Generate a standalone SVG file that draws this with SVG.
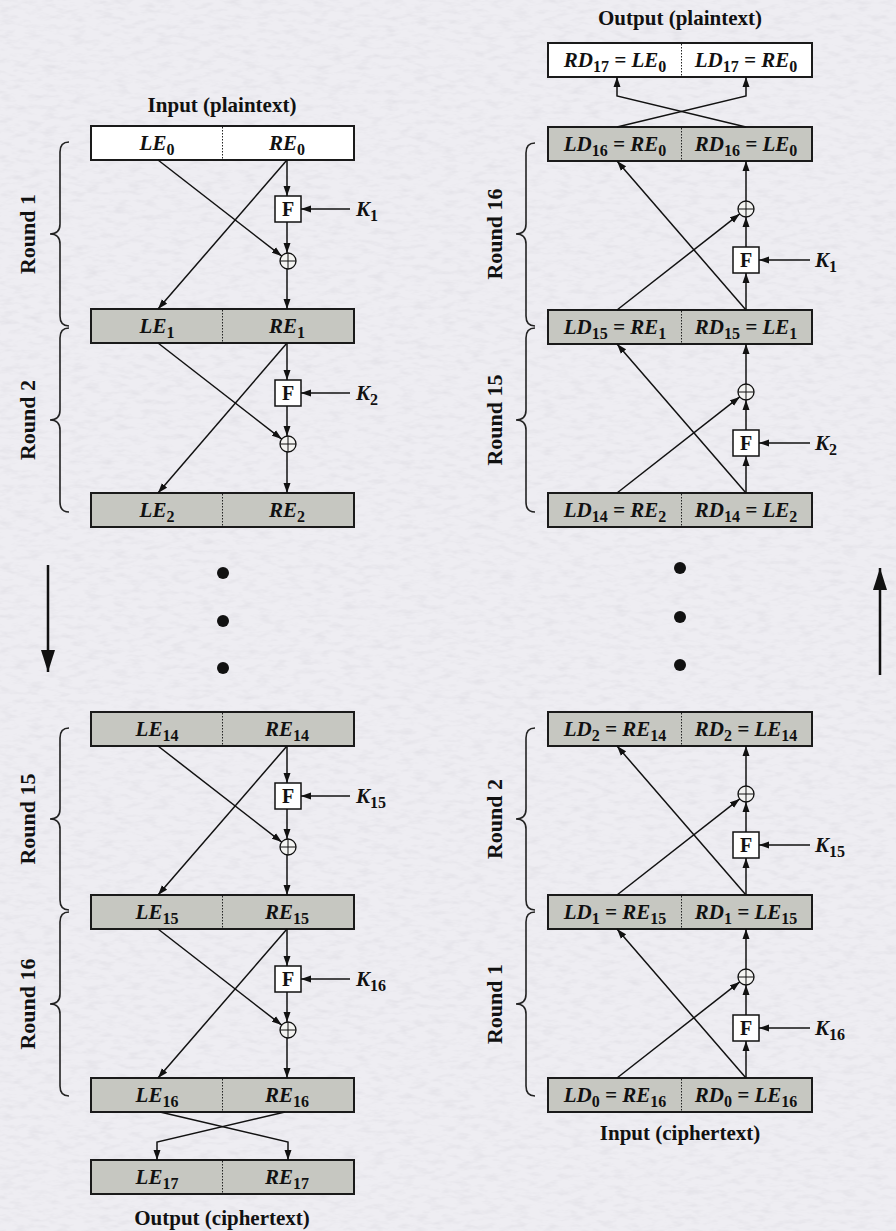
<svg xmlns="http://www.w3.org/2000/svg" width="896" height="1231" viewBox="0 0 896 1231">
  <defs>
    <marker id="ah" markerUnits="userSpaceOnUse" markerWidth="10" markerHeight="8" refX="10" refY="4" orient="auto">
      <path d="M0,0.5 L10,4 L0,7.5 z" fill="#111"/>
    </marker>
    <marker id="bigah" markerUnits="userSpaceOnUse" markerWidth="22" markerHeight="16" refX="22" refY="8" orient="auto">
      <path d="M0,1 L22,8 L0,15 z" fill="#111"/>
    </marker>
    <filter id="paper" x="0" y="0" width="100%" height="100%">
      <feTurbulence type="fractalNoise" baseFrequency="0.07 0.2" numOctaves="3" seed="7"/>
      <feColorMatrix type="matrix" values="0 0 0 0 0.64  0 0 0 0 0.63  0 0 0 0 0.68  0.8 0 0 0 -0.36"/>
    </filter>
    <style>
      .bg { fill: #eeedf2; }
      .box { stroke: #1a1a1a; stroke-width: 2; }
      .grey { fill: #c6c7c1; }
      .white { fill: #ffffff; }
      .div { stroke: #222; stroke-width: 1; stroke-dasharray: 1.5 1.5; }
      .t { font-family: "Liberation Serif", "Times New Roman", serif; font-weight: bold; font-style: italic; font-size: 21px; fill: #111; }
      .s { font-style: normal; font-size: 16px; }
      .lbl { font-family: "Liberation Serif", "Times New Roman", serif; font-weight: bold; font-size: 21px; fill: #111; }
      .rnd { font-family: "Liberation Serif", "Times New Roman", serif; font-weight: bold; font-size: 22px; fill: #111; }
      .ln { stroke: #111; stroke-width: 1.5; fill: none; }
      .arr { marker-end: url(#ah); }
      .fbox { fill: #ffffff; stroke: #111; stroke-width: 1.5; }
      .ftxt { font-family: "Liberation Serif", "Times New Roman", serif; font-weight: bold; font-size: 20px; fill: #111; }
      .xor { fill: #f4f4f2; stroke: #111; stroke-width: 1.3; }
      .brace { stroke: #222; stroke-width: 1.6; fill: none; }
      .dot { fill: #111; }
    </style>
  </defs>

  <!-- paper background -->
  <rect class="bg" x="0" y="0" width="896" height="1231"/>
  <rect x="0" y="0" width="896" height="1231" filter="url(#paper)"/>

  <!-- ===== Encryption (left column) ===== -->
  <text class="lbl" x="222" y="112" text-anchor="middle">Input (plaintext)</text>
  <text class="lbl" x="222" y="1225" text-anchor="middle">Output (ciphertext)</text>

  <g id="enc-0">
    <rect class="box white" x="91" y="126" width="263" height="34"/>
    <line class="div" x1="222.5" y1="127" x2="222.5" y2="159"/>
    <text class="t" x="157" y="150" text-anchor="middle">LE<tspan class="s" dy="5">0</tspan></text>
    <text class="t" x="287" y="150" text-anchor="middle">RE<tspan class="s" dy="5">0</tspan></text>
  </g>
  <g id="enc-1">
    <rect class="box grey" x="91" y="309" width="263" height="34"/>
    <line class="div" x1="222.5" y1="310" x2="222.5" y2="342"/>
    <text class="t" x="157" y="333" text-anchor="middle">LE<tspan class="s" dy="5">1</tspan></text>
    <text class="t" x="287" y="333" text-anchor="middle">RE<tspan class="s" dy="5">1</tspan></text>
  </g>
  <g id="enc-2">
    <rect class="box grey" x="91" y="493" width="263" height="34"/>
    <line class="div" x1="222.5" y1="494" x2="222.5" y2="526"/>
    <text class="t" x="157" y="517" text-anchor="middle">LE<tspan class="s" dy="5">2</tspan></text>
    <text class="t" x="287" y="517" text-anchor="middle">RE<tspan class="s" dy="5">2</tspan></text>
  </g>
  <g id="enc-14">
    <rect class="box grey" x="91" y="712" width="263" height="34"/>
    <line class="div" x1="222.5" y1="713" x2="222.5" y2="745"/>
    <text class="t" x="157" y="736" text-anchor="middle">LE<tspan class="s" dy="5">14</tspan></text>
    <text class="t" x="287" y="736" text-anchor="middle">RE<tspan class="s" dy="5">14</tspan></text>
  </g>
  <g id="enc-15">
    <rect class="box grey" x="91" y="895" width="263" height="34"/>
    <line class="div" x1="222.5" y1="896" x2="222.5" y2="928"/>
    <text class="t" x="157" y="919" text-anchor="middle">LE<tspan class="s" dy="5">15</tspan></text>
    <text class="t" x="287" y="919" text-anchor="middle">RE<tspan class="s" dy="5">15</tspan></text>
  </g>
  <g id="enc-16">
    <rect class="box grey" x="91" y="1078" width="263" height="34"/>
    <line class="div" x1="222.5" y1="1079" x2="222.5" y2="1111"/>
    <text class="t" x="157" y="1102" text-anchor="middle">LE<tspan class="s" dy="5">16</tspan></text>
    <text class="t" x="287" y="1102" text-anchor="middle">RE<tspan class="s" dy="5">16</tspan></text>
  </g>
  <g id="enc-17">
    <rect class="box grey" x="91" y="1160" width="263" height="34"/>
    <line class="div" x1="222.5" y1="1161" x2="222.5" y2="1193"/>
    <text class="t" x="157" y="1184" text-anchor="middle">LE<tspan class="s" dy="5">17</tspan></text>
    <text class="t" x="287" y="1184" text-anchor="middle">RE<tspan class="s" dy="5">17</tspan></text>
  </g>

  <!-- round function blocks, encryption -->
  <g id="enc-f1"><rect class="fbox" x="275" y="196" width="26" height="26"/><text class="ftxt" x="288" y="216" text-anchor="middle">F</text></g>
  <g id="enc-x1"><circle class="xor" cx="288" cy="261" r="8"/><path class="ln" d="M280,261 H296 M288,253 V269" style="stroke-width:1"/></g>
  <g id="enc-f2"><rect class="fbox" x="275" y="380" width="26" height="26"/><text class="ftxt" x="288" y="400" text-anchor="middle">F</text></g>
  <g id="enc-x2"><circle class="xor" cx="288" cy="444" r="8"/><path class="ln" d="M280,444 H296 M288,436 V452" style="stroke-width:1"/></g>
  <g id="enc-f15"><rect class="fbox" x="275" y="783" width="26" height="26"/><text class="ftxt" x="288" y="803" text-anchor="middle">F</text></g>
  <g id="enc-x15"><circle class="xor" cx="288" cy="847" r="8"/><path class="ln" d="M280,847 H296 M288,839 V855" style="stroke-width:1"/></g>
  <g id="enc-f16"><rect class="fbox" x="275" y="966" width="26" height="26"/><text class="ftxt" x="288" y="986" text-anchor="middle">F</text></g>
  <g id="enc-x16"><circle class="xor" cx="288" cy="1030" r="8"/><path class="ln" d="M280,1030 H296 M288,1022 V1038" style="stroke-width:1"/></g>

  <!-- subkeys, encryption -->
  <g id="enc-k">
    <text class="t" x="356" y="216">K<tspan class="s" dy="5">1</tspan></text>
    <text class="t" x="356" y="400">K<tspan class="s" dy="5">2</tspan></text>
    <text class="t" x="356" y="803">K<tspan class="s" dy="5">15</tspan></text>
    <text class="t" x="356" y="986">K<tspan class="s" dy="5">16</tspan></text>
  </g>

  <!-- ===== Decryption (right column) ===== -->
  <text class="lbl" x="680" y="25" text-anchor="middle">Output (plaintext)</text>
  <text class="lbl" x="680" y="1140" text-anchor="middle">Input (ciphertext)</text>

  <g id="dec-17">
    <rect class="box white" x="548" y="43" width="264" height="34"/>
    <line class="div" x1="681.5" y1="44" x2="681.5" y2="76"/>
    <text class="t" x="615" y="67" text-anchor="middle">RD<tspan class="s" dy="5">17</tspan><tspan dy="-5"> = LE</tspan><tspan class="s" dy="5">0</tspan></text>
    <text class="t" x="746" y="67" text-anchor="middle">LD<tspan class="s" dy="5">17</tspan><tspan dy="-5"> = RE</tspan><tspan class="s" dy="5">0</tspan></text>
  </g>
  <g id="dec-16">
    <rect class="box grey" x="548" y="127" width="264" height="34"/>
    <line class="div" x1="681.5" y1="128" x2="681.5" y2="160"/>
    <text class="t" x="615" y="151" text-anchor="middle">LD<tspan class="s" dy="5">16</tspan><tspan dy="-5"> = RE</tspan><tspan class="s" dy="5">0</tspan></text>
    <text class="t" x="746" y="151" text-anchor="middle">RD<tspan class="s" dy="5">16</tspan><tspan dy="-5"> = LE</tspan><tspan class="s" dy="5">0</tspan></text>
  </g>
  <g id="dec-15">
    <rect class="box grey" x="548" y="310" width="264" height="34"/>
    <line class="div" x1="681.5" y1="311" x2="681.5" y2="343"/>
    <text class="t" x="615" y="334" text-anchor="middle">LD<tspan class="s" dy="5">15</tspan><tspan dy="-5"> = RE</tspan><tspan class="s" dy="5">1</tspan></text>
    <text class="t" x="746" y="334" text-anchor="middle">RD<tspan class="s" dy="5">15</tspan><tspan dy="-5"> = LE</tspan><tspan class="s" dy="5">1</tspan></text>
  </g>
  <g id="dec-14">
    <rect class="box grey" x="548" y="493" width="264" height="34"/>
    <line class="div" x1="681.5" y1="494" x2="681.5" y2="526"/>
    <text class="t" x="615" y="517" text-anchor="middle">LD<tspan class="s" dy="5">14</tspan><tspan dy="-5"> = RE</tspan><tspan class="s" dy="5">2</tspan></text>
    <text class="t" x="746" y="517" text-anchor="middle">RD<tspan class="s" dy="5">14</tspan><tspan dy="-5"> = LE</tspan><tspan class="s" dy="5">2</tspan></text>
  </g>
  <g id="dec-2">
    <rect class="box grey" x="548" y="712" width="264" height="34"/>
    <line class="div" x1="681.5" y1="713" x2="681.5" y2="745"/>
    <text class="t" x="615" y="736" text-anchor="middle">LD<tspan class="s" dy="5">2</tspan><tspan dy="-5"> = RE</tspan><tspan class="s" dy="5">14</tspan></text>
    <text class="t" x="746" y="736" text-anchor="middle">RD<tspan class="s" dy="5">2</tspan><tspan dy="-5"> = LE</tspan><tspan class="s" dy="5">14</tspan></text>
  </g>
  <g id="dec-1">
    <rect class="box grey" x="548" y="895" width="264" height="34"/>
    <line class="div" x1="681.5" y1="896" x2="681.5" y2="928"/>
    <text class="t" x="615" y="919" text-anchor="middle">LD<tspan class="s" dy="5">1</tspan><tspan dy="-5"> = RE</tspan><tspan class="s" dy="5">15</tspan></text>
    <text class="t" x="746" y="919" text-anchor="middle">RD<tspan class="s" dy="5">1</tspan><tspan dy="-5"> = LE</tspan><tspan class="s" dy="5">15</tspan></text>
  </g>
  <g id="dec-0">
    <rect class="box grey" x="548" y="1078" width="264" height="34"/>
    <line class="div" x1="681.5" y1="1079" x2="681.5" y2="1111"/>
    <text class="t" x="615" y="1102" text-anchor="middle">LD<tspan class="s" dy="5">0</tspan><tspan dy="-5"> = RE</tspan><tspan class="s" dy="5">16</tspan></text>
    <text class="t" x="746" y="1102" text-anchor="middle">RD<tspan class="s" dy="5">0</tspan><tspan dy="-5"> = LE</tspan><tspan class="s" dy="5">16</tspan></text>
  </g>

  <!-- round function blocks, decryption -->
  <g id="dec-f16"><rect class="fbox" x="733" y="247" width="26" height="26"/><text class="ftxt" x="746" y="267" text-anchor="middle">F</text></g>
  <g id="dec-x16"><circle class="xor" cx="746" cy="209" r="8"/><path class="ln" d="M738,209 H754 M746,201 V217" style="stroke-width:1"/></g>
  <g id="dec-f15"><rect class="fbox" x="733" y="430" width="26" height="26"/><text class="ftxt" x="746" y="450" text-anchor="middle">F</text></g>
  <g id="dec-x15"><circle class="xor" cx="746" cy="392" r="8"/><path class="ln" d="M738,392 H754 M746,384 V400" style="stroke-width:1"/></g>
  <g id="dec-f2"><rect class="fbox" x="733" y="832" width="26" height="26"/><text class="ftxt" x="746" y="852" text-anchor="middle">F</text></g>
  <g id="dec-x2"><circle class="xor" cx="746" cy="794" r="8"/><path class="ln" d="M738,794 H754 M746,786 V802" style="stroke-width:1"/></g>
  <g id="dec-f1"><rect class="fbox" x="733" y="1015" width="26" height="26"/><text class="ftxt" x="746" y="1035" text-anchor="middle">F</text></g>
  <g id="dec-x1"><circle class="xor" cx="746" cy="977" r="8"/><path class="ln" d="M738,977 H754 M746,969 V985" style="stroke-width:1"/></g>

  <!-- subkeys, decryption -->
  <g id="dec-k">
    <text class="t" x="815" y="267">K<tspan class="s" dy="5">1</tspan></text>
    <text class="t" x="815" y="450">K<tspan class="s" dy="5">2</tspan></text>
    <text class="t" x="815" y="852">K<tspan class="s" dy="5">15</tspan></text>
    <text class="t" x="815" y="1035">K<tspan class="s" dy="5">16</tspan></text>
  </g>

  <!-- round braces and labels -->
  <g id="braces">
    <path class="brace" d="M69,142 Q60,142 60,152 L60,224 Q60,234 50,234 Q60,234 60,244 L60,316 Q60,326 69,326"/>
    <path class="brace" d="M69,328 Q60,328 60,338 L60,410 Q60,420 50,420 Q60,420 60,430 L60,502 Q60,512 69,512"/>
    <path class="brace" d="M69,728 Q60,728 60,738 L60,809 Q60,819 50,819 Q60,819 60,829 L60,900 Q60,910 69,910"/>
    <path class="brace" d="M69,912 Q60,912 60,922 L60,994 Q60,1004 50,1004 Q60,1004 60,1014 L60,1086 Q60,1096 69,1096"/>
    <path class="brace" d="M535,143 Q526,143 526,153 L526,224 Q526,234 516,234 Q526,234 526,244 L526,316 Q526,326 535,326"/>
    <path class="brace" d="M535,328 Q526,328 526,338 L526,410 Q526,420 516,420 Q526,420 526,430 L526,502 Q526,512 535,512"/>
    <path class="brace" d="M535,728 Q526,728 526,738 L526,809 Q526,819 516,819 Q526,819 526,829 L526,900 Q526,910 535,910"/>
    <path class="brace" d="M535,912 Q526,912 526,922 L526,994 Q526,1004 516,1004 Q526,1004 526,1014 L526,1086 Q526,1096 535,1096"/>
  </g>
  <g id="round-labels">
    <text class="rnd" transform="translate(28,234) rotate(-90)" y="7" text-anchor="middle">Round 1</text>
    <text class="rnd" transform="translate(28,420) rotate(-90)" y="7" text-anchor="middle">Round 2</text>
    <text class="rnd" transform="translate(28,819) rotate(-90)" y="7" text-anchor="middle">Round 15</text>
    <text class="rnd" transform="translate(28,1004) rotate(-90)" y="7" text-anchor="middle">Round 16</text>
    <text class="rnd" transform="translate(495,234) rotate(-90)" y="7" text-anchor="middle">Round 16</text>
    <text class="rnd" transform="translate(495,420) rotate(-90)" y="7" text-anchor="middle">Round 15</text>
    <text class="rnd" transform="translate(495,819) rotate(-90)" y="7" text-anchor="middle">Round 2</text>
    <text class="rnd" transform="translate(495,1004) rotate(-90)" y="7" text-anchor="middle">Round 1</text>
  </g>

  <!-- ellipsis dots -->
  <g id="ellipsis">
    <circle class="dot" cx="223" cy="573" r="6"/>
    <circle class="dot" cx="223" cy="621" r="6"/>
    <circle class="dot" cx="223" cy="668" r="6"/>
    <circle class="dot" cx="680" cy="568" r="6"/>
    <circle class="dot" cx="680" cy="617" r="6"/>
    <circle class="dot" cx="680" cy="665" r="6"/>
  </g>

  <!-- ===== connectors ===== -->
  <g id="connectors">
    <!-- encryption round 1 -->
    <line class="ln arr" x1="287" y1="160" x2="287" y2="196"/>
    <line class="ln arr" x1="287" y1="222" x2="287" y2="253"/>
    <line class="ln arr" x1="287" y1="269" x2="287" y2="309"/>
    <line class="ln arr" x1="158" y1="160" x2="281.7" y2="256.1"/>
    <line class="ln arr" x1="287" y1="160" x2="158" y2="309"/>
    <line class="ln arr" x1="350" y1="209" x2="301" y2="209"/>
    <!-- encryption round 2 -->
    <line class="ln arr" x1="287" y1="343" x2="287" y2="380"/>
    <line class="ln arr" x1="287" y1="406" x2="287" y2="436"/>
    <line class="ln arr" x1="287" y1="452" x2="287" y2="493"/>
    <line class="ln arr" x1="158" y1="343" x2="281.7" y2="439.1"/>
    <line class="ln arr" x1="287" y1="343" x2="158" y2="493"/>
    <line class="ln arr" x1="350" y1="393" x2="301" y2="393"/>
    <!-- encryption round 15 -->
    <line class="ln arr" x1="287" y1="746" x2="287" y2="783"/>
    <line class="ln arr" x1="287" y1="809" x2="287" y2="839"/>
    <line class="ln arr" x1="287" y1="855" x2="287" y2="895"/>
    <line class="ln arr" x1="158" y1="746" x2="281.7" y2="842.1"/>
    <line class="ln arr" x1="287" y1="746" x2="158" y2="895"/>
    <line class="ln arr" x1="350" y1="796" x2="301" y2="796"/>
    <!-- encryption round 16 -->
    <line class="ln arr" x1="287" y1="929" x2="287" y2="966"/>
    <line class="ln arr" x1="287" y1="992" x2="287" y2="1022"/>
    <line class="ln arr" x1="287" y1="1038" x2="287" y2="1078"/>
    <line class="ln arr" x1="158" y1="929" x2="281.7" y2="1025.1"/>
    <line class="ln arr" x1="287" y1="929" x2="158" y2="1078"/>
    <line class="ln arr" x1="350" y1="979" x2="301" y2="979"/>
    <!-- final swap, encryption -->
    <polyline class="ln arr" points="160,1112 288,1142 288,1160"/>
    <polyline class="ln arr" points="285,1112 157,1142 157,1160"/>

    <!-- decryption round 1 (bottom) -->
    <line class="ln arr" x1="746" y1="1078" x2="746" y2="1041"/>
    <line class="ln arr" x1="746" y1="1015" x2="746" y2="985"/>
    <line class="ln arr" x1="746" y1="969" x2="746" y2="929"/>
    <line class="ln arr" x1="617" y1="1078" x2="739.7" y2="981.9"/>
    <line class="ln arr" x1="746" y1="1078" x2="617" y2="929"/>
    <line class="ln arr" x1="810" y1="1028" x2="759" y2="1028"/>
    <!-- decryption round 2 -->
    <line class="ln arr" x1="746" y1="895" x2="746" y2="858"/>
    <line class="ln arr" x1="746" y1="832" x2="746" y2="802"/>
    <line class="ln arr" x1="746" y1="786" x2="746" y2="746"/>
    <line class="ln arr" x1="617" y1="895" x2="739.7" y2="798.9"/>
    <line class="ln arr" x1="746" y1="895" x2="617" y2="746"/>
    <line class="ln arr" x1="810" y1="845" x2="759" y2="845"/>
    <!-- decryption round 15 -->
    <line class="ln arr" x1="746" y1="493" x2="746" y2="456"/>
    <line class="ln arr" x1="746" y1="430" x2="746" y2="400"/>
    <line class="ln arr" x1="746" y1="384" x2="746" y2="344"/>
    <line class="ln arr" x1="617" y1="493" x2="739.7" y2="396.9"/>
    <line class="ln arr" x1="746" y1="493" x2="617" y2="344"/>
    <line class="ln arr" x1="810" y1="443" x2="759" y2="443"/>
    <!-- decryption round 16 -->
    <line class="ln arr" x1="746" y1="310" x2="746" y2="273"/>
    <line class="ln arr" x1="746" y1="247" x2="746" y2="217"/>
    <line class="ln arr" x1="746" y1="201" x2="746" y2="161"/>
    <line class="ln arr" x1="617" y1="310" x2="739.7" y2="213.9"/>
    <line class="ln arr" x1="746" y1="310" x2="617" y2="161"/>
    <line class="ln arr" x1="810" y1="260" x2="759" y2="260"/>
    <!-- final swap, decryption -->
    <polyline class="ln arr" points="617,127 746,96 746,77"/>
    <polyline class="ln arr" points="746,127 617,96 617,77"/>

    <!-- direction arrows -->
    <line class="ln" x1="48" y1="565" x2="48" y2="672" style="stroke-width:2.5;marker-end:url(#bigah)"/>
    <line class="ln" x1="880" y1="675" x2="880" y2="568" style="stroke-width:2.5;marker-end:url(#bigah)"/>
  </g>
</svg>
